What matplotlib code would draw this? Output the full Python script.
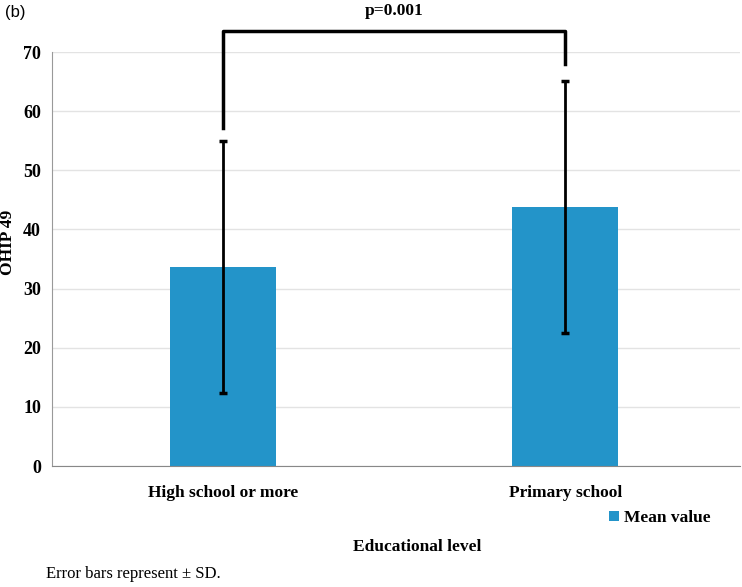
import matplotlib
matplotlib.use("Agg")
import matplotlib.pyplot as plt
import numpy as np

categories = ["High school or more", "Primary school"]
means = [33.7, 43.8]
sds = [21.3, 21.3]
yticks = [0, 10, 20, 30, 40, 50, 60, 70]
p_label = "p=0.001"

BLUE = "#2394c9"
serif = "Liberation Serif"
FS = 12.5

fig = plt.figure(figsize=(7.42, 5.87), dpi=100)
ax = fig.add_axes([0.0701, 0.2061, 0.927, 0.7053])

x = np.arange(len(categories))
ax.bar(x, means, width=0.31, color=BLUE, label="Mean value", zorder=2)
ax.errorbar(x, means, yerr=sds, fmt="none", ecolor="black", elinewidth=2,
            capsize=3, capthick=2.5, zorder=3)

ax.set_xlim(-0.5, 1.51)
ax.set_ylim(0, 70)
ax.set_yticks(yticks)
ax.set_yticklabels([str(t) for t in yticks], fontfamily=serif, fontweight="bold", fontsize=13)
ax.set_xticks(x)
ax.set_xticklabels(categories, fontfamily=serif, fontweight="bold", fontsize=FS)
ax.tick_params(axis="y", length=0, pad=8)
ax.tick_params(axis="x", length=0, pad=14)

ax.grid(axis="y", color="#e3e3e3", linewidth=1, zorder=0)
for s in ["top", "right"]:
    ax.spines[s].set_visible(False)
ax.spines["left"].set_color("#999999")
ax.spines["bottom"].set_color("#888888")

# y label placed by hand so it is not cut at the edge
fig.text(8 / 742, 1 - 242 / 587, "OHIP 49", rotation=90, ha="center", va="center",
         fontfamily=serif, fontweight="bold", fontsize=FS)

# significance bracket
top = 73.6
ax.plot([x[0], x[0], x[1], x[1]],
        [means[0] + sds[0] + 2.2, top, top, means[1] + sds[1] + 2.8],
        color="black", linewidth=2.5, clip_on=False, zorder=4)
fig.text(394 / 742, 1 - 11 / 587, p_label, ha="center", va="center",
         fontfamily=serif, fontweight="bold", fontsize=FS)

leg = ax.legend(loc="center", bbox_to_anchor=(660 / 742, 1 - 518 / 587),
                bbox_transform=fig.transFigure, frameon=False,
                handlelength=0.55, handleheight=0.55, handletextpad=0.3,
                prop={"family": serif, "weight": "bold", "size": FS})

fig.text(417 / 742, 1 - 547 / 587, "Educational level", ha="center", va="center",
         fontfamily=serif, fontweight="bold", fontsize=FS)
fig.text(46 / 742, 1 - 574 / 587, "Error bars represent \u00b1 SD.", ha="left", va="center",
         fontfamily=serif, fontsize=12)
fig.text(5 / 742, 1 - 12 / 587, "(b)", ha="left", va="center",
         fontfamily="Liberation Sans", fontsize=12)

fig.savefig("out.png", dpi=100, facecolor="white")
